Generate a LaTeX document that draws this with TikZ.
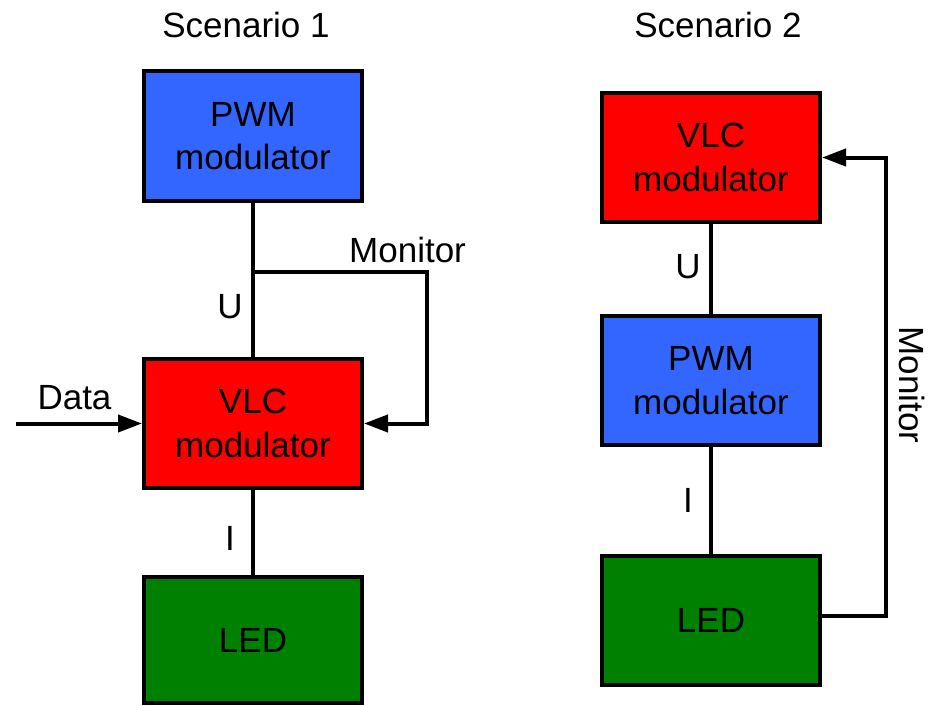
\documentclass[tikz,border=0pt]{standalone}
\usepackage{fontspec}
\setmainfont{Liberation Sans}
\usetikzlibrary{arrows.meta}
\definecolor{pwmblue}{RGB}{51,102,255}
\definecolor{vlcred}{RGB}{255,0,0}
\definecolor{ledgreen}{RGB}{0,128,0}
\tikzset{
  blk/.style={draw=black, line width=4pt, minimum width=218pt, minimum height=129pt,
    align=center, inner sep=0pt, font=\fontsize{35}{43.5}\selectfont},
  lbl/.style={anchor=base, inner sep=0pt, font=\fontsize{35}{42}\selectfont},
  wire/.style={line width=4pt},
  arr/.style={line width=4pt, -{Triangle[length=24pt,width=17pt]}}
}
\begin{document}
\begin{tikzpicture}[x=1pt,y=-1pt]
\useasboundingbox (0,0) rectangle (936,706);
% Scenario 1
\node[lbl] (t1) at (246,38) {Scenario 1};
\node[blk, fill=pwmblue] (pwm1) at (253,136) {PWM\\modulator};
\node[blk, fill=vlcred] (vlc1) at (253,423.5) {VLC\\modulator};
\node[blk, fill=ledgreen, minimum height=126pt] (led1) at (253,640) {LED};
\coordinate (j1) at (253,272);
\coordinate (m1) at (427,272);
\coordinate (din) at (16,423.5);
\draw[wire] (pwm1.south) -- (vlc1.north);
\draw[wire] (vlc1.south) -- (led1.north);
\draw[arr] (j1) -- (m1) |- (vlc1.east);
\draw[arr] (din) -- (vlc1.west);
\node[lbl, anchor=base west] (mon1) at (349,262) {Monitor};
\node[lbl] (u1) at (230,318) {U};
\node[lbl] (i1) at (230,550) {I};
\node[lbl] (data) at (74.5,409) {Data};
% Scenario 2
\node[lbl] (t2) at (718,38) {Scenario 2};
\node[blk, fill=vlcred] (vlc2) at (711,157.5) {VLC\\modulator};
\node[blk, fill=pwmblue] (pwm2) at (711,380.5) {PWM\\modulator};
\node[blk, fill=ledgreen] (led2) at (711,620) {LED};
\coordinate (m2) at (886,616);
\draw[wire] (vlc2.south) -- (pwm2.north);
\draw[wire] (pwm2.south) -- (led2.north);
\draw[arr] (led2.east |- m2) -- (m2) |- (vlc2.east);
\node[lbl] (u2) at (688,278) {U};
\node[lbl] (i2) at (688,512) {I};
\node[anchor=center, inner sep=0pt, rotate=-90, font=\fontsize{35}{42}\selectfont] (mon2) at (912,385) {Monitor};
\end{tikzpicture}
\end{document}
